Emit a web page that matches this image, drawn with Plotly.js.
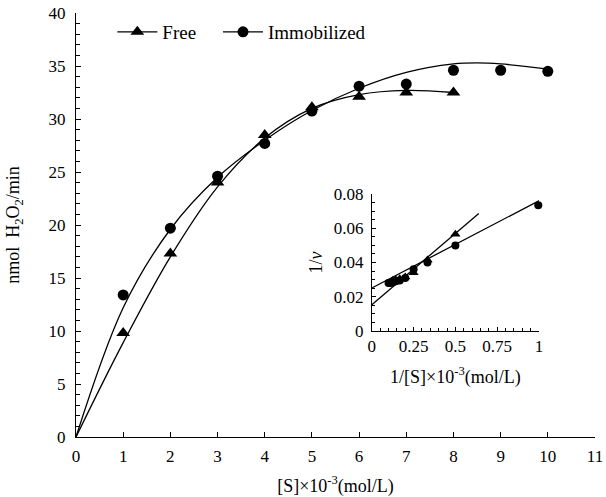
<!DOCTYPE html>
<html>
<head>
<meta charset="utf-8">
<script src="https://cdn.plot.ly/plotly-3.0.1.min.js"></script>
<style>body{margin:0;padding:0;background:#fff}</style>
</head>
<body>
<div id="chart" style="width:606px;height:497px"></div>
<script>
// Main chart: measured rates
const substrate = [1, 2, 3, 4, 5, 6, 7, 8, 9, 10];
const freeRate = [9.8, 17.3, 24.0, 28.5, 31.1, 32.1, 32.5, 32.5];
const immobRate = [13.4, 19.7, 24.6, 27.7, 30.75, 33.1, 33.3, 34.6, 34.6, 34.5];

// Main chart: fitted curves
const freeCurveX = [0, 1, 2, 3, 4, 5, 6, 7, 8];
const freeCurveY = [0, 8.9, 17.0, 23.6, 28.2, 31.0, 32.3, 32.7, 32.5];
const immobCurveX = [0, 1, 2, 3, 4, 5, 6, 7, 8, 8.5, 9, 10];
const immobCurveY = [0, 12.2, 19.6, 24.5, 28.0, 30.8, 32.9, 34.4, 35.2, 35.3, 35.2, 34.7];

// Inset: Lineweaver-Burk
const invSFree = [0.125, 0.143, 0.167, 0.2, 0.25, 0.333, 0.5];
const invVFree = [0.0295, 0.030, 0.0305, 0.0315, 0.034, 0.0415, 0.0565];
const invSImmob = [0.1, 0.111, 0.125, 0.143, 0.167, 0.2, 0.25, 0.333, 0.5, 0.996];
const invVImmob = [0.028, 0.028, 0.0285, 0.029, 0.0295, 0.031, 0.036, 0.040, 0.050, 0.0735];
const freeFitX = [0, 0.64];
const freeFitY = [0.0154, 0.0686];
const immobFitX = [0, 1.02];
const immobFitY = [0.0251, 0.0771];

const seriesNames = ['Free', 'Immobilized'];

const FONT = '"Liberation Serif", "Times New Roman", serif';
const FS = 17;
const black = '#000';

const traces = [
  {x: freeCurveX, y: freeCurveY, mode: 'lines', line: {shape: 'spline', color: black, width: 1.3}, showlegend: false, hoverinfo: 'skip'},
  {x: immobCurveX, y: immobCurveY, mode: 'lines', line: {shape: 'spline', color: black, width: 1.3}, showlegend: false, hoverinfo: 'skip'},
  {x: substrate.slice(0, freeRate.length), y: freeRate, mode: 'markers', marker: {symbol: 'triangle-up', size: 12, color: black}, showlegend: false, cliponaxis: false},
  {x: substrate, y: immobRate, mode: 'markers', marker: {symbol: 'circle', size: 11, color: black}, showlegend: false, cliponaxis: false},
  // legend entries
  {x: [null], y: [null], name: seriesNames[0], legend: 'legend', mode: 'lines+markers', line: {color: black, width: 1.3}, marker: {symbol: 'triangle-up', size: 12, color: black}},
  {x: [null], y: [null], name: seriesNames[1], legend: 'legend2', mode: 'lines+markers', line: {color: black, width: 1.3}, marker: {symbol: 'circle', size: 11, color: black}},
  // inset
  {x: freeFitX, y: freeFitY, xaxis: 'x2', yaxis: 'y2', mode: 'lines', line: {color: black, width: 1.3}, showlegend: false},
  {x: immobFitX, y: immobFitY, xaxis: 'x2', yaxis: 'y2', mode: 'lines', line: {color: black, width: 1.3}, showlegend: false},
  {x: invSFree, y: invVFree, xaxis: 'x2', yaxis: 'y2', mode: 'markers', marker: {symbol: 'triangle-up', size: 9, color: black}, showlegend: false, cliponaxis: false},
  {x: invSImmob, y: invVImmob, xaxis: 'x2', yaxis: 'y2', mode: 'markers', marker: {symbol: 'circle', size: 8, color: black}, showlegend: false, cliponaxis: false}
];

const axBase = {
  showgrid: false, zeroline: false, showline: true, linecolor: black, linewidth: 1,
  ticks: 'inside', tickcolor: black, tickwidth: 1, ticklen: 5,
  tickfont: {family: FONT, size: FS, color: black}
};

const legBase = {orientation: 'h', y: 1.0, xanchor: 'left', yanchor: 'top', itemwidth: 40,
  font: {family: FONT, size: 19, color: black}, bgcolor: 'rgba(0,0,0,0)'};

const layout = {
  width: 606, height: 497,
  margin: {l: 76, r: 11, t: 13, b: 60},
  paper_bgcolor: '#fff', plot_bgcolor: '#fff',
  font: {family: FONT, size: FS, color: black},
  showlegend: true,
  legend: Object.assign({}, legBase, {x: 0.07}),
  legend2: Object.assign({}, legBase, {x: 0.2736}),
  xaxis: Object.assign({}, axBase, {range: [0, 11], dtick: 1, tick0: 0, domain: [0, 1], ticklabelstandoff: 4,
    title: {text: '[S]×10<sup>-3</sup>(mol/L)', font: {family: FONT, size: 18, color: black}, standoff: 14}}),
  yaxis: Object.assign({}, axBase, {range: [0, 40], dtick: 5, tick0: 0, ticklabelstandoff: 6,
    minor: {dtick: 1, ticks: 'inside', ticklen: 4, tickcolor: black},
    title: {text: 'nmol  H<sub>2</sub>O<sub>2</sub>/min', font: {family: FONT, size: 18, color: black}, standoff: 24}}),
  xaxis2: Object.assign({}, axBase, {anchor: 'y2', domain: [0.570, 0.892], range: [0, 1], dtick: 0.25,
    minor: {dtick: 0.05, ticks: 'inside', ticklen: 3, tickcolor: black}, ticklen: 4,
    title: {text: '1/[S]×10<sup>-3</sup>(mol/L)', font: {family: FONT, size: 18, color: black}, standoff: 14}}),
  yaxis2: Object.assign({}, axBase, {anchor: 'x2', domain: [0.25, 0.573], range: [0, 0.08], dtick: 0.02, ticklabelstandoff: 4,
    minor: {dtick: 0.005, ticks: 'inside', ticklen: 3, tickcolor: black}, ticklen: 4,
    title: {text: '1/<i>v</i>', font: {family: FONT, size: 18, color: black}, standoff: 6}})
};

Plotly.newPlot('chart', traces, layout, {displayModeBar: false, staticPlot: true});
</script>
</body>
</html>
